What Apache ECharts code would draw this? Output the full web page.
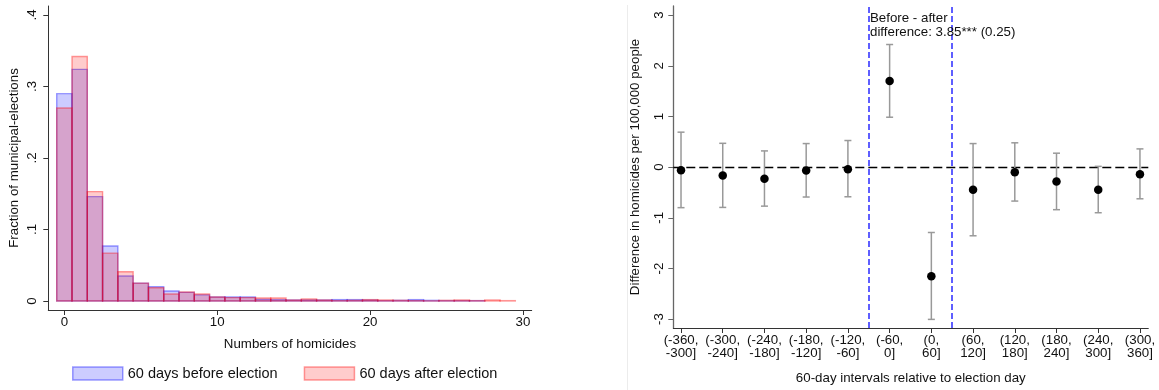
<!DOCTYPE html>
<html>
<head>
<meta charset="utf-8">
<script src="https://cdn.jsdelivr.net/npm/echarts@6/dist/echarts.min.js"></script>
<style>
html,body{margin:0;padding:0;background:#fff;}
#chart{width:1159px;height:390px;}
</style>
</head>
<body>
<div id="chart"></div>
<script>
// ---------- Data: left histogram ----------
const homicideBins = [0,1,2,3,4,5,6,7,8,9,10,11,12,13,14,15,16,17,18,19,20,21,22,23,24,25,26,27,28,29];
const fracBefore = [0.290,0.324,0.146,0.077,0.035,0.025,0.020,0.014,0.012,0.0085,0.0056,0.0056,0.0056,0.0023,0.0018,0.0014,0.0014,0.0014,0.0019,0.0019,0.0014,0.0005,0.0009,0.0019,0.0009,0.0005,0.0005,0.0005,0,0];
const fracAfter  = [0.270,0.342,0.153,0.067,0.041,0.025,0.0185,0.0098,0.0125,0.0098,0.0056,0.0047,0.0047,0.0042,0.0042,0.0014,0.0028,0.0014,0.0005,0.0009,0.0019,0.0014,0.0009,0.0005,0.0002,0.0009,0.0014,0.0005,0.0014,0.0005];
const histXTicks = [0,10,20,30];
const histYTicks = [0,0.1,0.2,0.3,0.4];
const histYTickLabels = ['0','.1','.2','.3','.4'];
const seriesNames = ['60 days before election','60 days after election'];

// ---------- Data: right coefficient plot ----------
const intervalLabels = ['(-360,\n-300]','(-300,\n-240]','(-240,\n-180]','(-180,\n-120]','(-120,\n-60]','(-60,\n0]','(0,\n60]','(60,\n120]','(120,\n180]','(180,\n240]','(240,\n300]','(300,\n360]'];
const intervalPos = [1,2,3,4,5,6,7,8,9,10,11,12];
const estimates = [-0.06,-0.165,-0.23,-0.065,-0.04,1.70,-2.155,-0.445,-0.10,-0.285,-0.445,-0.14];
const ciLow  = [-0.80,-0.795,-0.77,-0.59,-0.585,0.985,-3.005,-1.355,-0.67,-0.84,-0.90,-0.625];
const ciHigh = [0.69,0.47,0.32,0.465,0.525,2.42,-1.29,0.465,0.48,0.275,0.015,0.36];
const coefYTicks = [-3,-2,-1,0,1,2,3];
const electionWindow = [5.5, 7.5];
const annotationText = 'Before - after\ndifference: 3.85*** (0.25)';

const FONT = '"Liberation Sans", Arial, sans-serif';
const TXT = '#111';

const chart = echarts.init(document.getElementById('chart'), null, {renderer:'canvas'});

function histRender(fill, stroke){
  return function(params, api){
    const x = api.value(0), y = api.value(1);
    if (!(y > 0)) return null;
    const p1 = api.coord([x - 0.5, y]);
    const p2 = api.coord([x + 0.5, 0]);
    return {type:'rect', shape:{x:p1[0], y:p1[1], width:p2[0]-p1[0], height:p2[1]-p1[1]},
            style:{fill:fill, stroke:stroke, lineWidth:1.4}};
  };
}

const blueFill='rgba(0,0,255,0.2)', blueStroke='rgba(0,0,255,0.38)';
const redFill='rgba(255,0,0,0.2)', redStroke='rgba(255,0,0,0.38)';

const axisLineStyle = {color:'#333', width:1};

const option = {
  animation:false,
  backgroundColor:'#fff',
  textStyle:{fontFamily:FONT},
  grid:[
    {left:48.3, right:1159-531.7, top:6, bottom:80},
    {left:673.3, right:1159-1148.3, top:6, bottom:61.7}
  ],
  xAxis:[
    {gridIndex:0, type:'value', min:-1.05, max:30.57,
     name:'Numbers of homicides', nameLocation:'middle', nameGap:28,
     nameTextStyle:{fontSize:13.3, color:TXT, fontFamily:FONT},
     axisLine:{show:true, onZero:false, lineStyle:axisLineStyle},
     axisTick:{show:true, length:5, customValues:histXTicks, lineStyle:axisLineStyle},
     axisLabel:{customValues:histXTicks, fontSize:13.3, color:TXT, margin:6, fontFamily:FONT},
     splitLine:{show:false}},
    {gridIndex:1, type:'value', min:0.815, max:12.2,
     name:'60-day intervals relative to election day', nameLocation:'middle', nameGap:44,
     nameTextStyle:{fontSize:13.3, color:TXT, fontFamily:FONT},
     axisLine:{show:true, onZero:false, lineStyle:axisLineStyle},
     axisTick:{show:true, length:5, customValues:intervalPos, lineStyle:axisLineStyle},
     axisLabel:{customValues:intervalPos, fontSize:13.3, lineHeight:12.8, color:TXT, margin:6, fontFamily:FONT,
       formatter:function(v){ const i=Math.round(v)-1; return intervalLabels[i]||''; }},
     splitLine:{show:false}}
  ],
  yAxis:[
    {gridIndex:0, type:'value', min:-0.0126, max:0.4126,
     name:'Fraction of municipal-elections', nameLocation:'middle', nameGap:27,
     nameTextStyle:{fontSize:13.3, color:TXT, fontFamily:FONT},
     axisLine:{show:true, onZero:false, lineStyle:axisLineStyle},
     axisTick:{show:true, length:5, customValues:histYTicks, lineStyle:axisLineStyle},
     axisLabel:{customValues:histYTicks, rotate:90, fontSize:13.3, color:TXT, margin:9, fontFamily:FONT,
       formatter:function(v){ const i=histYTicks.findIndex(t=>Math.abs(t-v)<1e-9); return i>=0?histYTickLabels[i]:''; }},
     splitLine:{show:false}},
    {gridIndex:1, type:'value', min:-3.175, max:3.18,
     name:'Difference in homicides per 100,000 people', nameLocation:'middle', nameGap:31,
     nameTextStyle:{fontSize:13.3, color:TXT, fontFamily:FONT},
     axisLine:{show:true, onZero:false, lineStyle:{color:'#666', width:1.3}},
     axisTick:{show:true, length:5, customValues:coefYTicks, lineStyle:{color:'#666', width:1}},
     axisLabel:{customValues:coefYTicks, rotate:90, fontSize:13.3, color:TXT, margin:7, fontFamily:FONT},
     splitLine:{show:false}}
  ],
  legend:{
    left:72, top:366, padding:0, itemWidth:50, itemHeight:13, itemGap:26, selectedMode:false,
    textStyle:{fontSize:14.5, color:TXT, fontFamily:FONT},
    data:[
      {name:seriesNames[0], icon:'rect', itemStyle:{color:blueFill, borderColor:blueStroke, borderWidth:1.5}},
      {name:seriesNames[1], icon:'rect', itemStyle:{color:redFill, borderColor:redStroke, borderWidth:1.5}}
    ]
  },
  series:[
    {name:seriesNames[0], type:'custom', xAxisIndex:0, yAxisIndex:0,
     itemStyle:{color:blueFill, borderColor:blueStroke},
     renderItem:histRender(blueFill, blueStroke),
     data:homicideBins.map((b,i)=>[b, fracBefore[i]]), z:2},
    {name:seriesNames[1], type:'custom', xAxisIndex:0, yAxisIndex:0,
     itemStyle:{color:redFill, borderColor:redStroke},
     renderItem:histRender(redFill, redStroke),
     data:homicideBins.map((b,i)=>[b, fracAfter[i]]), z:3},
    {name:'ci', type:'custom', xAxisIndex:1, yAxisIndex:1, z:4,
     renderItem:function(params, api){
       const x=api.value(0), lo=api.value(1), hi=api.value(2);
       const a=api.coord([x, lo]), b=api.coord([x, hi]);
       const st={stroke:'#999', lineWidth:1.5};
       return {type:'group', children:[
         {type:'line', shape:{x1:a[0], y1:a[1], x2:b[0], y2:b[1]}, style:st},
         {type:'line', shape:{x1:a[0]-3.5, y1:a[1], x2:a[0]+3.5, y2:a[1]}, style:st},
         {type:'line', shape:{x1:b[0]-3.5, y1:b[1], x2:b[0]+3.5, y2:b[1]}, style:st}
       ]};
     },
     data:intervalPos.map((p,i)=>[p, ciLow[i], ciHigh[i]])},
    {name:'estimate', type:'scatter', xAxisIndex:1, yAxisIndex:1, z:6,
     symbol:'circle', symbolSize:8.5, itemStyle:{color:'#000', opacity:1},
     data:intervalPos.map((p,i)=>[p, estimates[i]]),
     markLine:{silent:true, symbol:'none', label:{show:false}, z:3,
       data:[
         {yAxis:0, lineStyle:{color:'#000', type:[9,4], width:1.3}},
         {xAxis:electionWindow[0], lineStyle:{color:'#2a2aff', type:[6,3], width:1.5}},
         {xAxis:electionWindow[1], lineStyle:{color:'#2a2aff', type:[6,3], width:1.5}}
       ]}}
  ],
  graphic:[
    {type:'line', shape:{x1:627.5, y1:5, x2:627.5, y2:390}, style:{stroke:'#ececec', lineWidth:1}, silent:true},
    {type:'text', left:870, top:12, style:{text:annotationText, font:'13.3px "Liberation Sans", Arial, sans-serif', fill:TXT, lineHeight:13.5}, z:10}
  ]
};
chart.setOption(option);
</script>
</body>
</html>
